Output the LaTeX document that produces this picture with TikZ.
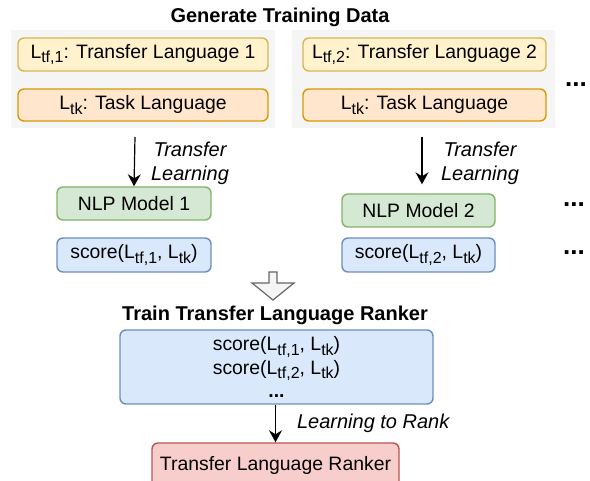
\documentclass[tikz,border=0pt]{standalone}
\usepackage{fontspec}
\setmainfont{Liberation Sans}
\usepackage{tikz}
\usetikzlibrary{arrows.meta}

\definecolor{panelgray}{HTML}{F5F5F5}
\definecolor{tffill}{HTML}{FFF2CC}\definecolor{tfline}{HTML}{D6B656}
\definecolor{tkfill}{HTML}{FFE6CC}\definecolor{tkline}{HTML}{D79B00}
\definecolor{nlpfill}{HTML}{D5E8D4}\definecolor{nlpline}{HTML}{82B366}
\definecolor{scfill}{HTML}{DAE8FC}\definecolor{scline}{HTML}{6C8EBF}
\definecolor{rkfill}{HTML}{F8CECC}\definecolor{rkline}{HTML}{B85450}

\newcommand{\lsub}[1]{\raisebox{-0.45ex}{\fontsize{8}{9}\selectfont #1}}

\tikzset{
  box/.style={draw, rounded corners=3pt, line width=0.7pt, inner sep=0pt},
  tfbox/.style={box, fill=tffill, draw=tfline},
  tkbox/.style={box, fill=tkfill, draw=tkline},
  nlpbox/.style={box, fill=nlpfill, draw=nlpline},
  scbox/.style={box, fill=scfill, draw=scline},
  rkbox/.style={box, fill=rkfill, draw=rkline},
  panel/.style={fill=panelgray, inner sep=0pt},
  flow/.style={-{Stealth[length=6pt,width=6.5pt,inset=2pt]}, line width=0.6pt},
  note/.style={font=\itshape, align=center},
  title/.style={font=\bfseries},
  dots/.style={font=\fontsize{13}{13}\selectfont\bfseries}
}

\begin{document}
\begin{tikzpicture}[x=0.5pt, y=-0.5pt, every node/.style={font=\fontsize{9.7}{11.6}\selectfont}]
    \useasboundingbox (0,0) rectangle (590,481);
    \node [panel, minimum width=132pt, minimum height=49pt] (panel1) at (143,79) {}; % left panel
    \node [panel, minimum width=131.5pt, minimum height=49pt] (panel2) at (423.5,79) {}; % right panel
    \node [title] (gen) at (280,17) {Generate Training Data};

    \node [tfbox, minimum width=125pt, minimum height=16.5pt] (tf1) at (143,54.5) {L\lsub{tf,1}: Transfer Language 1};
    \node [tkbox, minimum width=125pt, minimum height=16pt] (tk1) at (143,105) {L\lsub{tk}: Task Language};
    \node [tfbox, minimum width=121.5pt, minimum height=16.5pt] (tf2) at (424.5,54.5) {L\lsub{tf,2}: Transfer Language 2};
    \node [tkbox, minimum width=121.5pt, minimum height=16pt] (tk2) at (424.5,105) {L\lsub{tk}: Task Language};
    \node [dots] (dots1) at (576,85) {...};

    \node [nlpbox, minimum width=77pt, minimum height=16.5pt] (nlp1) at (134,203.5) {NLP Model 1};
    \node [scbox, minimum width=77pt, minimum height=17pt] (sc1) at (134,255) {score(L\lsub{tf,1}, L\lsub{tk})};
    \node [nlpbox, minimum width=76.5pt, minimum height=16.5pt] (nlp2) at (418.5,210.5) {NLP Model 2};
    \node [scbox, minimum width=76.5pt, minimum height=17pt] (sc2) at (418.5,255) {score(L\lsub{tf,2}, L\lsub{tk})};
    \node [dots] (dots2) at (574,205) {...};
    \node [dots] (dots3) at (574,253) {...};

    \coordinate (a1) at (135,137); \coordinate (a2) at (422,137); % arrow starts
    \draw [flow] (a1) -- (nlp1.north);
    \draw [flow] (a2) -- (a2 |- nlp2.north) [shorten >=4.5pt];
    \node [note] (tl1) at (190,163) {Transfer\\Learning};
    \node [note] (tl2) at (480,163) {Transfer\\Learning};

    \draw [draw=black!60, fill=panelgray, line width=0.6pt] (269,272) -- (277,272) -- (277,283) -- (294,283) -- (273,300) -- (252,283) -- (269,283) -- cycle; % hollow arrow

    \node [title] (train) at (275,315) {Train Transfer Language Ranker};
    \node [scbox, minimum width=156.5pt, minimum height=37pt, align=center] (scall) at (276.5,367) {score(L\lsub{tf,1}, L\lsub{tk})\\score(L\lsub{tf,2}, L\lsub{tk})\\\textbf{...}};
    \node [rkbox, minimum width=123.5pt, minimum height=22pt] (ranker) at (275.5,465) {Transfer Language Ranker};
    \draw [flow] (scall.south -| ranker.north) -- (ranker.north);
    \node [note, anchor=west] (ltr) at (290,423) {Learning to Rank};
\end{tikzpicture}
\end{document}
